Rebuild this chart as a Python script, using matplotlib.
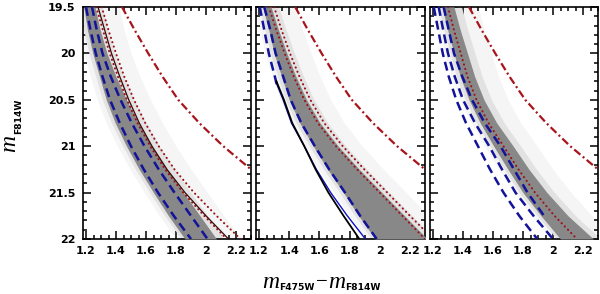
import matplotlib
matplotlib.use('Agg')
import matplotlib.pyplot as plt
from matplotlib.ticker import MultipleLocator, FixedLocator, FixedFormatter
from matplotlib.font_manager import FontProperties

# ---------------- data (colour m_F475W - m_F814W at given m_F814W) ----------------
MAG = [19.5, 19.75, 20.0, 20.25, 20.5, 20.75, 21.0, 21.25, 21.5, 21.75, 22.0]

# dash-dot line (same in all panels)
dashdot_mag = [19.5, 19.75, 20.0, 20.25, 20.5, 20.75, 21.0, 21.25, 21.5]
dashdot_col = [1.44, 1.525, 1.615, 1.71, 1.815, 1.955, 2.115, 2.30, 2.48]

# left panel
band_lo_L = [1.185, 1.21, 1.245, 1.29, 1.335, 1.395, 1.47, 1.555, 1.65, 1.75, 1.86]
band_hi_L = [1.26, 1.295, 1.34, 1.40, 1.47, 1.55, 1.64, 1.74, 1.85, 1.96, 2.07]
blue1_L = [1.20, 1.23, 1.265, 1.31, 1.36, 1.425, 1.50, 1.585, 1.68, 1.785, 1.90]
blue2_L = [1.24, 1.272, 1.31, 1.365, 1.43, 1.505, 1.59, 1.685, 1.79, 1.90, 2.01]
solid_L = [1.28, 1.325, 1.37, 1.425, 1.485, 1.555, 1.64, 1.74, 1.86, 2.00, 2.15]
dotA_L = [1.268, 1.313, 1.358, 1.413, 1.473, 1.543, 1.628, 1.728, 1.848, 1.988, 2.138]
dotB_L = [1.305, 1.35, 1.40, 1.455, 1.52, 1.595, 1.685, 1.79, 1.92, 2.07, 2.23]

# middle panel
band_lo_M = [1.225, 1.265, 1.30, 1.35, 1.40, 1.47, 1.56, 1.655, 1.76, 1.86, 1.97]
band_hi_M = [1.28, 1.33, 1.385, 1.445, 1.515, 1.605, 1.725, 1.865, 2.015, 2.165, 2.315]
blueA_mag_M = [19.5, 19.75, 20.0, 20.25, 20.35]
blueA_M = [1.205, 1.235, 1.265, 1.305, 1.32]
blueB_M = [1.235, 1.275, 1.31, 1.36, 1.41, 1.48, 1.57, 1.665, 1.77, 1.87, 1.98]
solid_mag_M = [20.3, 20.5, 20.75, 21.0, 21.25, 21.5, 21.75, 22.0]
bluesolid_M = [1.31, 1.36, 1.415, 1.50, 1.58, 1.675, 1.785, 1.905]
blacksolid_M = [1.315, 1.365, 1.42, 1.50, 1.575, 1.66, 1.76, 1.865]
dotA_M = [1.265, 1.315, 1.37, 1.43, 1.50, 1.59, 1.71, 1.85, 2.00, 2.15, 2.30]
dotB_M = [1.30, 1.35, 1.405, 1.468, 1.54, 1.632, 1.755, 1.898, 2.05, 2.20, 2.355]

# right panel
band_lo_R = [1.26, 1.298, 1.34, 1.382, 1.44, 1.515, 1.605, 1.70, 1.80, 1.92, 2.05]
band_hi_R = [1.34, 1.382, 1.43, 1.478, 1.54, 1.625, 1.735, 1.84, 1.96, 2.10, 2.27]
blue1_R = [1.205, 1.235, 1.265, 1.305, 1.355, 1.42, 1.50, 1.58, 1.67, 1.775, 1.895]
blue2_R = [1.238, 1.268, 1.30, 1.345, 1.40, 1.48, 1.575, 1.66, 1.75, 1.87, 2.00]
blue3_mag_R = [19.5, 19.75, 20.0, 20.25, 20.5, 20.75, 21.0, 21.25, 21.5, 21.75]
blue3_R = [1.271, 1.305, 1.34, 1.395, 1.46, 1.545, 1.65, 1.74, 1.83, 1.94]
dot_R = [1.30, 1.34, 1.385, 1.43, 1.49, 1.57, 1.67, 1.77, 1.88, 2.01, 2.16]

xticks = [1.2, 1.4, 1.6, 1.8, 2.0, 2.2]
xticklabels = ["1.2", "1.4", "1.6", "1.8", "2", "2.2"]
yticks = [19.5, 20.0, 20.5, 21.0, 21.5, 22.0]
yticklabels = ["19.5", "20", "20.5", "21", "21.5", "22"]

# ---------------- style ----------------
BLUE = '#12129a'
RED = '#9c1018'
DDRED = '#a8141c'
GREY = '#888888'
HALO1 = '#e2e2e2'
HALO2 = '#f5f5f5'

W, H = 600, 294
fig = plt.figure(figsize=(6, 2.94), dpi=100)
panels_px = [(83, 251), (256, 425), (430, 598)]
top, bottom = 7, 239

tickfont = FontProperties(family='DejaVu Sans', weight='bold', size=8.0)


def dashed(ax, x, y):
    ax.plot(x, y, color=BLUE, lw=1.8, dashes=(3.6, 2.0), solid_capstyle='butt', zorder=5)


def dotted(ax, x, y):
    ax.plot(x, y, color=RED, lw=1.5, dashes=(0.1, 2.1), dash_capstyle='round', zorder=6)


def dashdot(ax):
    ax.plot(dashdot_col, dashdot_mag, color=DDRED, lw=1.6, dashes=(3.6, 1.4, 0.9, 1.4), zorder=6)


def band(ax, lo, hi):
    ax.fill_betweenx(MAG, [v - 0.06 for v in lo], [v + 0.16 for v in hi], color=HALO2, lw=0, zorder=1)
    ax.fill_betweenx(MAG, [v - 0.025 for v in lo], [v + 0.05 for v in hi], color=HALO1, lw=0, zorder=2)
    ax.fill_betweenx(MAG, lo, hi, color=GREY, lw=0, zorder=3)


axes = []
for i, (x0, x1) in enumerate(panels_px):
    ax = fig.add_axes([x0 / W, (H - bottom) / H, (x1 - x0) / W, (bottom - top) / H])
    ax.set_xlim(1.18, 2.3)
    ax.set_ylim(22.0, 19.5)
    ax.xaxis.set_major_locator(FixedLocator(xticks))
    ax.xaxis.set_major_formatter(FixedFormatter(xticklabels))
    ax.xaxis.set_minor_locator(MultipleLocator(0.05))
    ax.yaxis.set_major_locator(FixedLocator(yticks))
    ax.yaxis.set_major_formatter(FixedFormatter(yticklabels))
    ax.yaxis.set_minor_locator(MultipleLocator(0.1))
    ax.tick_params(which='both', direction='in', top=True, right=True, width=1.1, color='black')
    ax.tick_params(which='major', length=5.5)
    ax.tick_params(which='minor', length=2.8)
    ax.tick_params(axis='x', which='major', pad=5)
    ax.tick_params(axis='y', which='major', pad=5.5)
    for lab in ax.get_xticklabels() + ax.get_yticklabels():
        lab.set_fontproperties(tickfont)
    if i > 0:
        ax.tick_params(labelleft=False)
    for sp in ax.spines.values():
        sp.set_linewidth(1.2)
    axes.append(ax)

axL, axM, axR = axes

# left
band(axL, band_lo_L, band_hi_L)
dashed(axL, blue1_L, MAG)
dashed(axL, blue2_L, MAG)
dotted(axL, dotA_L, MAG)
axL.plot(solid_L, MAG, color='#3a0808', lw=0.9, zorder=6)
dotted(axL, dotB_L, MAG)
dashdot(axL)

# middle
band(axM, band_lo_M, band_hi_M)
dashed(axM, blueA_M, blueA_mag_M)
dashed(axM, blueB_M, MAG)
axM.plot(bluesolid_M, solid_mag_M, color='#1010c8', lw=1.0, zorder=6)
axM.plot(blacksolid_M, solid_mag_M, color='black', lw=1.3, zorder=6)
dotted(axM, dotA_M, MAG)
dotted(axM, dotB_M, MAG)
dashdot(axM)

# right
band(axR, band_lo_R, band_hi_R)
dashed(axR, blue1_R, MAG)
dashed(axR, blue2_R, MAG)
dashed(axR, blue3_R, blue3_mag_R)
dotted(axR, dot_R, MAG)
dashdot(axR)

# ---------------- axis labels ----------------
fig.canvas.draw()
r = fig.canvas.get_renderer()
mfont = FontProperties(family='Liberation Serif', style='italic', size=17)
sfont = FontProperties(family='DejaVu Sans', weight='bold', size=6.6)
minfont = FontProperties(family='Liberation Serif', size=15)

pieces = [("m", mfont, 0), ("F475W", sfont, -2), ("\u2212", minfont, 1), ("m", mfont, 0), ("F814W", sfont, -2)]
x = 262.0
base = 294 - 288
for s, fp, dy in pieces:
    t = fig.text(x / W, (base + dy) / H, s, fontproperties=fp, ha='left', va='baseline')
    bb = t.get_window_extent(r)
    x += bb.width + 0.5

# y label (rotated)
y = 294 - 152
ty = fig.text(15 / W, y / H, "m", fontproperties=mfont, rotation=90,
              rotation_mode='anchor', ha='left', va='baseline')
bb = ty.get_window_extent(r)
fig.text(21 / W, (y + bb.height + 1) / H, "F814W", fontproperties=sfont, rotation=90,
         rotation_mode='anchor', ha='left', va='baseline')

fig.savefig('out.png', dpi=100)
